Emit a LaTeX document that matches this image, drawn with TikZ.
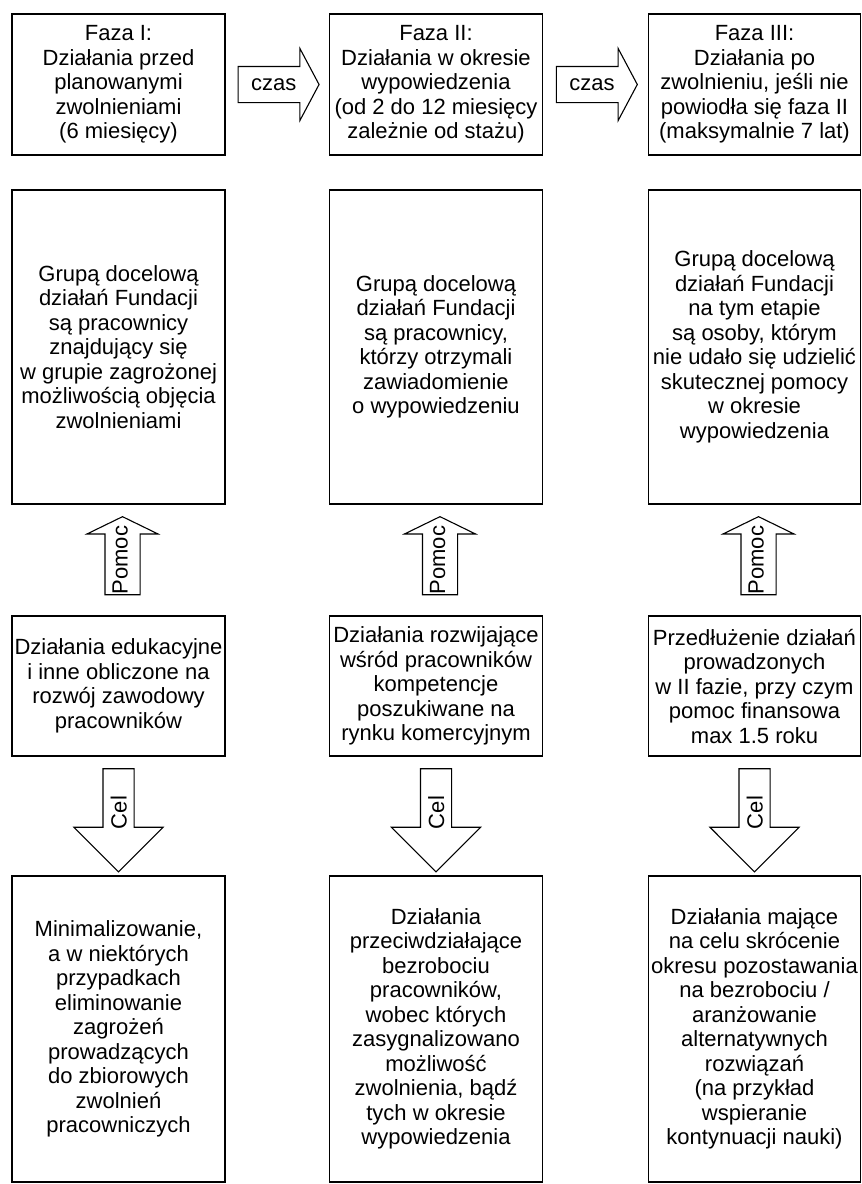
\documentclass[tikz,border=0pt]{standalone}
\usepackage{fontspec}
\setmainfont{Liberation Sans}
\usetikzlibrary{calc, shapes.arrows}
\tikzstyle{faza}     = [rectangle, draw=black, line width=1.1pt, align=center, inner sep=0pt, minimum width=213pt, minimum height=141pt, font=\fontsize{22pt}{24.5pt}\selectfont]
\tikzstyle{grupa}    = [faza, minimum height=314pt]
\tikzstyle{dzial}    = [faza, minimum height=140pt]
\tikzstyle{skutek}   = [faza, minimum height=306pt]
\tikzstyle{strzalka} = [single arrow, draw=black, line width=1.1pt, inner sep=0pt, font=\fontsize{22pt}{24.5pt}\selectfont]
\tikzstyle{czas}     = [strzalka, text height=23.2pt, text depth=11.8pt, single arrow head extend=18pt, single arrow tip angle=124, minimum height=81pt]
\tikzstyle{pomoc}    = [strzalka, rotate=90, text height=22pt, text depth=12pt, single arrow head extend=18pt, single arrow tip angle=128, minimum height=78pt]
\tikzstyle{celstr}   = [strzalka, rotate=90, shape border rotate=180, text height=23pt, text depth=7pt, single arrow head extend=29pt, single arrow tip angle=90, minimum height=103pt]

\begin{document}
\begin{tikzpicture}[x=1pt, y=-1pt]
    \useasboundingbox (0,0) rectangle (862,1184);

    % fazy
    \node (f1) [faza] at (118.5,84.5) {Faza I:\\Działania przed\\planowanymi\\zwolnieniami\\(6 miesięcy)};
    \node (f2) [faza] at (436,84.5)   {Faza II:\\Działania w okresie\\wypowiedzenia\\(od 2 do 12 miesięcy\\zależnie od stażu)};
    \node (f3) [faza, minimum width=212pt] at (754.5,84.5) {Faza III:\\Działania po\\zwolnieniu, jeśli nie\\powiodła się faza II\\(maksymalnie 7 lat)};

    % grupy docelowe
    \node (g1) [grupa] at (118.5,347) {Grupą docelową\\działań Fundacji\\są pracownicy\\znajdujący się\\w grupie zagrożonej\\możliwością objęcia\\zwolnieniami};
    \node (g2) [grupa] at (436,347)   {Grupą docelową\\działań Fundacji\\są pracownicy,\\którzy otrzymali\\zawiadomienie\\o wypowiedzeniu};
    \node (g3) [grupa, minimum width=212pt] at (754.5,347) {Grupą docelową\\działań Fundacji\\na tym etapie\\są osoby, którym\\nie udało się udzielić\\skutecznej pomocy\\w okresie\\wypowiedzenia};

    % dzialania
    \node (d1) [dzial] at (118.5,686) {Działania edukacyjne\\i inne obliczone na\\rozwój zawodowy\\pracowników};
    \node (d2) [dzial] at (436,686)   {Działania rozwijające\\wśród pracowników\\kompetencje\\poszukiwane na\\rynku komercyjnym};
    \node (d3) [dzial, minimum width=212pt] at (754.5,686) {Przedłużenie działań\\prowadzonych\\w II fazie, przy czym\\pomoc finansowa\\max 1.5 roku};

    % cele
    \node (c1) [skutek] at (118.5,1029) {Minimalizowanie,\\a w niektórych\\przypadkach\\eliminowanie\\zagrożeń\\prowadzących\\do zbiorowych\\zwolnień\\pracowniczych};
    \node (c2) [skutek] at (436,1029)   {Działania\\przeciwdziałające\\bezrobociu\\pracowników,\\wobec których\\zasygnalizowano\\możliwość\\zwolnienia, bądź\\tych w okresie\\wypowiedzenia};
    \node (c3) [skutek, minimum width=212pt] at (754.5,1029) {Działania mające\\na celu skrócenie\\okresu pozostawania\\na bezrobociu /\\aranżowanie\\alternatywnych\\rozwiązań\\(na przykład\\wspieranie\\kontynuacji nauki)};

    % strzalki
    \node (t1) [czas, xshift=-3.5pt] at ($(f1.east)!0.5!(f2.west)$) {czas};
    \node (t2) [czas, xshift=-3.5pt] at ($(f2.east)!0.5!(f3.west)$) {czas};

    \node (p1) [pomoc, yshift=-4pt] at ($(g1.south)!0.5!(d1.north)$) {Pomoc};
    \node (p2) [pomoc, yshift=-4pt] at ($(g2.south)!0.5!(d2.north)$) {Pomoc};
    \node (p3) [pomoc, yshift=-4pt] at ($(g3.south)!0.5!(d3.north)$) {Pomoc};

    \node (s1) [celstr, xshift=3.5pt] at ($(d1.south)!0.5!(c1.north)$) {Cel};
    \node (s2) [celstr, xshift=3.5pt] at ($(d2.south)!0.5!(c2.north)$) {Cel};
    \node (s3) [celstr, xshift=3.5pt] at ($(d3.south)!0.5!(c3.north)$) {Cel};
\end{tikzpicture}
\end{document}
